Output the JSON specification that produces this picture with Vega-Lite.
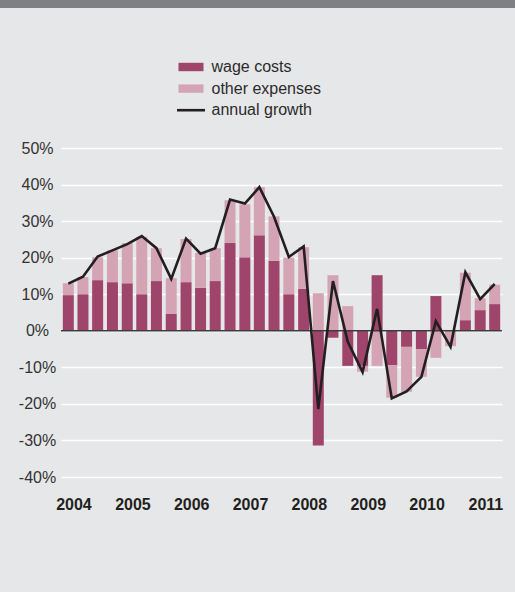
{
  "$schema": "https://vega.github.io/schema/vega-lite/v6.json",
  "background": "#e6e7e8",
  "padding": 0,
  "spacing": 132,
  "align": "none",
  "config": {
    "view": {"stroke": null},
    "font": "Liberation Sans",
    "axisX": {"title": null, "labelAngle": 0, "labelAlign": "center", "labelBaseline": "top", "labelPadding": 19, "ticks": false, "tickSize": 0, "domain": false, "grid": false, "labelFontSize": 16, "labelFontWeight": "bold", "labelColor": "#231f20", "labelFont": "Liberation Sans", "minExtent": 115, "labelOverlap": false, "labelFlush": false},
    "axisY": {"title": null, "ticks": false, "tickSize": 0, "domain": false, "grid": true, "gridColor": "#ffffff", "gridWidth": 1.3, "labelAlign": "center", "labelBaseline": "middle", "labelPadding": 24, "labelDy": 2, "labelFontSize": 16, "labelColor": "#333333", "labelFont": "Liberation Sans", "minExtent": 60, "labelOverlap": false, "labelFlush": false}
  },
  "datasets": {
    "quarters": [
      {"date": "2004-01-01", "wage costs": 9.75, "other expenses": 3.25, "annual growth": 12.9},
      {"date": "2004-04-01", "wage costs": 10.0, "other expenses": 4.7, "annual growth": 14.8},
      {"date": "2004-07-01", "wage costs": 13.85, "other expenses": 6.25, "annual growth": 20.3},
      {"date": "2004-10-01", "wage costs": 13.3, "other expenses": 8.7, "annual growth": 22.0},
      {"date": "2005-01-01", "wage costs": 13.0, "other expenses": 11.0, "annual growth": 23.7},
      {"date": "2005-04-01", "wage costs": 10.0, "other expenses": 15.7, "annual growth": 25.9},
      {"date": "2005-07-01", "wage costs": 13.6, "other expenses": 9.0, "annual growth": 22.6},
      {"date": "2005-10-01", "wage costs": 4.6, "other expenses": 9.8, "annual growth": 14.2},
      {"date": "2006-01-01", "wage costs": 13.3, "other expenses": 11.8, "annual growth": 25.2},
      {"date": "2006-04-01", "wage costs": 11.75, "other expenses": 9.55, "annual growth": 21.1},
      {"date": "2006-07-01", "wage costs": 13.6, "other expenses": 9.0, "annual growth": 22.6},
      {"date": "2006-10-01", "wage costs": 24.0, "other expenses": 11.7, "annual growth": 35.9},
      {"date": "2007-01-01", "wage costs": 20.1, "other expenses": 14.5, "annual growth": 34.8},
      {"date": "2007-04-01", "wage costs": 26.1, "other expenses": 13.2, "annual growth": 39.3},
      {"date": "2007-07-01", "wage costs": 19.1, "other expenses": 12.2, "annual growth": 31.2},
      {"date": "2007-10-01", "wage costs": 10.0, "other expenses": 10.0, "annual growth": 20.2},
      {"date": "2008-01-01", "wage costs": 11.45, "other expenses": 11.4, "annual growth": 23.1},
      {"date": "2008-04-01", "wage costs": -31.4, "other expenses": 10.3, "annual growth": -21.4},
      {"date": "2008-07-01", "wage costs": -1.9, "other expenses": 15.2, "annual growth": 13.6},
      {"date": "2008-10-01", "wage costs": -9.6, "other expenses": 6.75, "annual growth": -3.0},
      {"date": "2009-01-01", "wage costs": -9.6, "other expenses": -1.6, "annual growth": -11.3},
      {"date": "2009-04-01", "wage costs": 15.2, "other expenses": -9.6, "annual growth": 6.0},
      {"date": "2009-07-01", "wage costs": -9.4, "other expenses": -8.9, "annual growth": -18.5},
      {"date": "2009-10-01", "wage costs": -4.4, "other expenses": -12.3, "annual growth": -16.6},
      {"date": "2010-01-01", "wage costs": -5.0, "other expenses": -7.6, "annual growth": -12.6},
      {"date": "2010-04-01", "wage costs": 9.5, "other expenses": -7.4, "annual growth": 2.65},
      {"date": "2010-07-01", "wage costs": 0.0, "other expenses": -4.2, "annual growth": -4.4},
      {"date": "2010-10-01", "wage costs": 2.9, "other expenses": 13.0, "annual growth": 16.0},
      {"date": "2011-01-01", "wage costs": 5.65, "other expenses": 3.25, "annual growth": 8.65},
      {"date": "2011-04-01", "wage costs": 7.3, "other expenses": 5.3, "annual growth": 12.8}
    ]
  },
  "vconcat": [
    {
      "width": 515,
      "height": 8,
      "view": {"fill": "#7f8083", "stroke": null},
      "data": {"values": []},
      "mark": "point",
      "encoding": {}
    },
    {
      "spacing": 0,
      "align": "none",
      "hconcat": [
        {
          "width": 1,
          "height": 1,
          "data": {"values": []},
          "mark": "point",
          "encoding": {}
        },
        {
          "width": 441,
          "height": 329,
          "data": {"name": "quarters"},
          "layer": [
            {
              "transform": [{"fold": ["wage costs", "other expenses"], "as": ["series", "value"]}],
              "mark": {"type": "bar", "width": 11},
              "encoding": {
                "x": {
                  "field": "date", "type": "temporal",
                  "scale": {"type": "utc", "nice": false, "padding": 0, "domain": [{"year": 2003, "month": 11, "date": 16, "hours": 14, "utc": true}, {"year": 2011, "month": 5, "date": 16, "hours": 10, "utc": true}]},
                  "axis": {
                    "values": [
                      {"year": 2004, "month": 2, "date": 2, "utc": true}, {"year": 2005, "month": 2, "date": 2, "utc": true},
                      {"year": 2006, "month": 2, "date": 2, "utc": true}, {"year": 2007, "month": 2, "date": 2, "utc": true},
                      {"year": 2008, "month": 2, "date": 2, "utc": true}, {"year": 2009, "month": 2, "date": 2, "utc": true},
                      {"year": 2010, "month": 2, "date": 2, "utc": true}, {"year": 2011, "month": 2, "date": 2, "utc": true}
                    ],
                    "labelExpr": "utcFormat(datum.value, '%Y')"
                  }
                },
                "y": {
                  "field": "value", "type": "quantitative", "stack": "zero",
                  "scale": {"domain": [-40, 50], "nice": false, "zero": false},
                  "axis": {"values": [-40, -30, -20, -10, 0, 10, 20, 30, 40, 50], "labelExpr": "datum.value + '%'"}
                },
                "color": {
                  "field": "series", "type": "nominal",
                  "scale": {"domain": ["wage costs", "other expenses", "annual growth"], "range": ["#9f456b", "#d5a4b4", "#231f20"]},
                  "legend": {
                    "title": null, "orient": "none", "legendX": 183, "legendY": 59, "direction": "vertical",
                    "symbolSize": 400, "labelFontSize": 16, "labelColor": "#2b2b2b", "labelFont": "Liberation Sans",
                    "labelOffset": 12.5, "rowPadding": 5.6, "padding": 0, "labelLimit": 300,
                    "encode": {
                      "symbols": {
                        "update": {
                          "shape": {"signal": "datum.label === 'annual growth' ? 'M-1.4,0H1.4' : 'M-1.25,-0.42H1.25V0.42H-1.25Z'"},
                          "fill": {"signal": "datum.label === 'annual growth' ? 'transparent' : (datum.label === 'wage costs' ? '#9f456b' : '#d5a4b4')"},
                          "stroke": {"signal": "datum.label === 'annual growth' ? '#231f20' : 'transparent'"},
                          "strokeWidth": {"signal": "datum.label === 'annual growth' ? 2.6 : 0"},
                          "size": {"value": 400},
                          "opacity": {"value": 1}
                        }
                      }
                    }
                  }
                },
                "order": {"field": "series", "sort": "descending"}
              }
            },
            {
              "data": {"values": [{"v": 0}]},
              "mark": {"type": "rule", "color": "#3c3c3c", "strokeWidth": 1.5},
              "encoding": {
                "y": {"field": "v", "type": "quantitative",
                  "axis": {"values": [-40, -30, -20, -10, 0, 10, 20, 30, 40, 50], "labelExpr": "datum.value + '%'"}}
              }
            },
            {
              "mark": {"type": "line", "strokeWidth": 2.6, "strokeJoin": "miter"},
              "encoding": {
                "x": {"field": "date", "type": "temporal",
                  "axis": {
                    "values": [
                      {"year": 2004, "month": 2, "date": 2, "utc": true}, {"year": 2005, "month": 2, "date": 2, "utc": true},
                      {"year": 2006, "month": 2, "date": 2, "utc": true}, {"year": 2007, "month": 2, "date": 2, "utc": true},
                      {"year": 2008, "month": 2, "date": 2, "utc": true}, {"year": 2009, "month": 2, "date": 2, "utc": true},
                      {"year": 2010, "month": 2, "date": 2, "utc": true}, {"year": 2011, "month": 2, "date": 2, "utc": true}
                    ],
                    "labelExpr": "utcFormat(datum.value, '%Y')"
                  }},
                "y": {"field": "annual growth", "type": "quantitative",
                  "axis": {"values": [-40, -30, -20, -10, 0, 10, 20, 30, 40, 50], "labelExpr": "datum.value + '%'"}},
                "color": {"datum": "annual growth"}
              }
            }
          ]
        }
      ]
    }
  ]
}
